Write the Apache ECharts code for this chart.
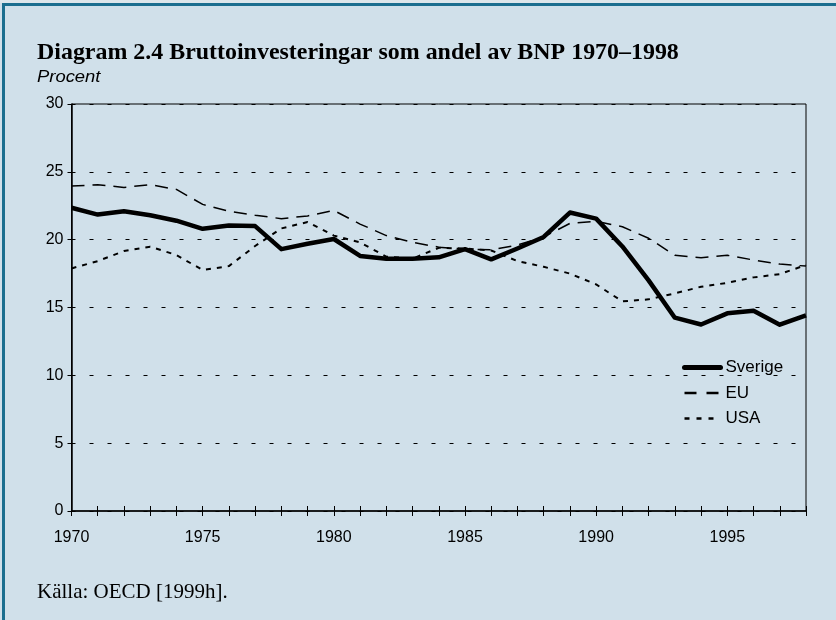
<!DOCTYPE html>
<html>
<head>
<meta charset="utf-8">
<script src="https://cdn.jsdelivr.net/npm/echarts@6/dist/echarts.min.js"></script>
<style>
html,body{margin:0;padding:0;background:#d0e0ea;}
#c{width:836px;height:620px;}
</style>
</head>
<body>
<div id="c"></div>
<script>
var years = ['1970','1971','1972','1973','1974','1975','1976','1977','1978','1979','1980','1981','1982','1983','1984','1985','1986','1987','1988','1989','1990','1991','1992','1993','1994','1995','1996','1997','1998'];
var sverige = [22.35,21.85,22.1,21.8,21.4,20.8,21.05,21.0,19.3,19.7,20.05,18.8,18.6,18.6,18.7,19.3,18.55,19.35,20.2,22.0,21.55,19.5,17.0,14.25,13.75,14.57,14.76,13.73,14.42];
var eu = [23.95,24.05,23.85,24.05,23.7,22.6,22.1,21.8,21.55,21.75,22.15,21.15,20.3,19.8,19.45,19.3,19.25,19.6,20.2,21.2,21.35,20.95,20.1,18.85,18.67,18.85,18.5,18.2,18.05];
var usa = [17.88,18.42,19.16,19.48,18.87,17.76,18.05,19.53,20.83,21.3,20.3,19.8,18.75,18.6,19.4,19.35,19.2,18.42,18.0,17.5,16.7,15.45,15.6,16.04,16.53,16.82,17.22,17.46,18.13];
var yTicks = [0,5,10,15,20,25,30];

var SANS = '"Liberation Sans", Arial, sans-serif';
var chart = echarts.init(document.getElementById('c'), null, {renderer:'canvas'});
var option = {
  backgroundColor: '#d0e0ea',
  animation: false,
  graphic: [
    {type:'rect', shape:{x:0,y:0,width:836,height:3}, style:{fill:'#dde6eb'}},
    {type:'rect', shape:{x:2,y:3,width:834,height:3}, style:{fill:'#1b6e8f'}},
    {type:'rect', shape:{x:2,y:3,width:3,height:617}, style:{fill:'#1b6e8f'}},
    {type:'text', x:37, y:42, scaleX:1.04, style:{text:'Diagram 2.4 Bruttoinvesteringar som andel av BNP 1970\u20131998', font:'bold 23px "Liberation Serif", "Times New Roman", serif', fill:'#000'}},
    {type:'text', x:37, y:70, scaleX:1.15, style:{text:'Procent', font:'italic 16px ' + SANS, fill:'#000'}},
    {type:'text', x:37, y:582, style:{text:'K\u00e4lla: OECD [1999h].', font:'21px "Liberation Serif", "Times New Roman", serif', fill:'#000'}}
  ],
  grid: {left:71.5, right:30, top:104, bottom:109, show:true, borderColor:'#000', borderWidth:1, backgroundColor:'transparent'},
  legend: {
    orient:'vertical', left:677, top:354, itemGap:8.5, itemWidth:36, itemHeight:20,
    itemStyle:{opacity:0},
    textStyle:{fontSize:17, color:'#000', fontFamily:SANS},
    data:[
      {name:'Sverige', itemStyle:{opacity:0}, lineStyle:{width:5, type:'solid', cap:'round'}},
      {name:'EU', itemStyle:{opacity:0}, lineStyle:{width:2.5, type:[12,10]}},
      {name:'USA', itemStyle:{opacity:0}, lineStyle:{width:2.5, type:[5,7]}}
    ]
  },
  xAxis: [
    {type:'category', data:years, boundaryGap:false,
     axisLine:{lineStyle:{color:'#000', width:1.5}},
     axisTick:{show:true, interval:0, length:5, lineStyle:{color:'#000', width:1}},
     axisLabel:{interval:4, margin:19, fontSize:16, color:'#000', fontFamily:SANS},
     splitLine:{show:false}},
    {type:'category', data:years, boundaryGap:false, position:'bottom',
     axisLine:{show:false},
     axisTick:{show:true, inside:true, interval:0, length:5, lineStyle:{color:'#000', width:1}},
     axisLabel:{show:false}, splitLine:{show:false}}
  ],
  yAxis: {type:'value', min:yTicks[0], max:yTicks[yTicks.length-1], interval:5,
    axisLine:{show:true, lineStyle:{color:'#000', width:1.5}},
    axisTick:{show:true, length:4, lineStyle:{color:'#000'}},
    axisLabel:{margin:8, fontSize:16, color:'#000', fontFamily:SANS},
    splitLine:{show:true, lineStyle:{color:'#000', width:1, type:[4,14]}}
  },
  series: [
    {name:'Sverige', type:'line', data:sverige, xAxisIndex:0, symbol:'none', z:5,
     lineStyle:{color:'#000', width:4.5, join:'round'}, itemStyle:{color:'#000'}},
    {name:'EU', type:'line', data:eu, xAxisIndex:0, symbol:'none', z:4,
     lineStyle:{color:'#000', width:1.5, type:[13,8]}, itemStyle:{color:'#000'}},
    {name:'USA', type:'line', data:usa, xAxisIndex:0, symbol:'none', z:3,
     lineStyle:{color:'#000', width:2, type:[5,6]}, itemStyle:{color:'#000'}}
  ]
};
chart.setOption(option);
</script>
</body>
</html>
